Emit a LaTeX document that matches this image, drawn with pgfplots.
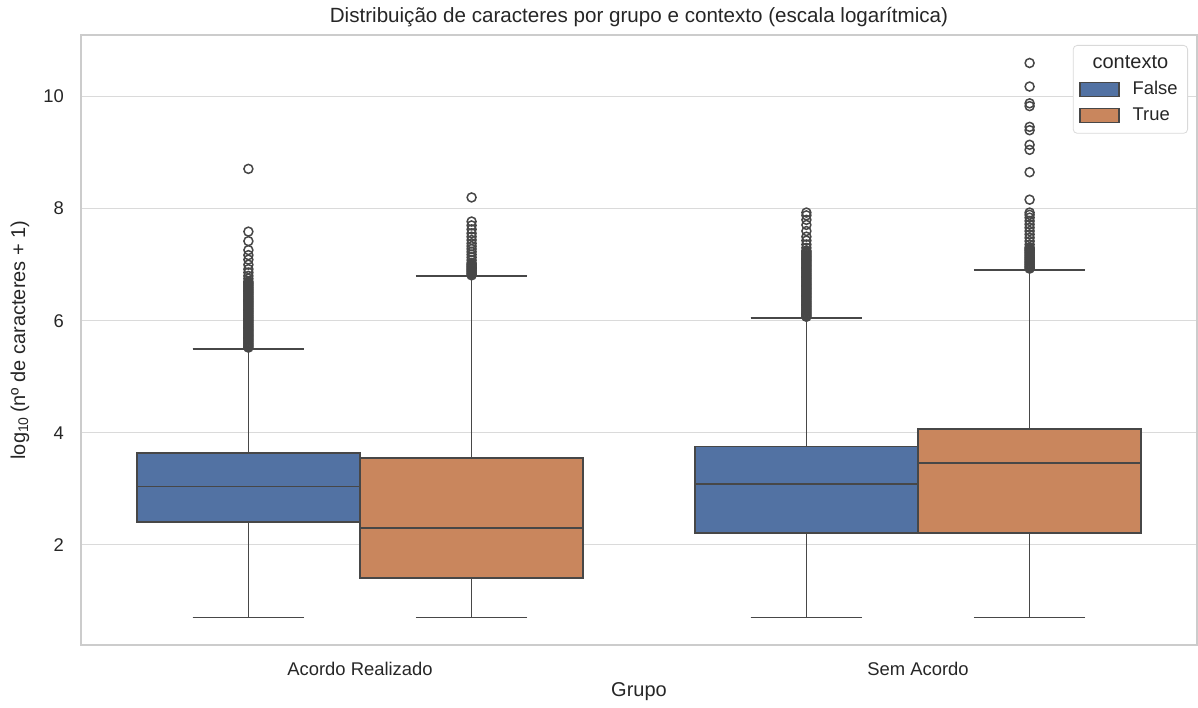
\documentclass[border=0pt]{standalone}
\usepackage{pgfplots}
\pgfplotsset{compat=1.18}
\usepgfplotslibrary{statistics}
\usepackage{fontspec}
\setmainfont{Liberation Sans}
\definecolor{cblue}{HTML}{5272A3}
\definecolor{corange}{HTML}{C9865D}
\definecolor{edge}{HTML}{474747}
\definecolor{txt}{HTML}{262626}
\definecolor{gridc}{HTML}{DADADA}

\begin{document}
\begin{tikzpicture}
\begin{axis}[
  scale only axis,
  width=558pt, height=305pt,
  xmin=-0.5, xmax=1.5,
  ymin=0.21, ymax=11.1,
  xtick={0,1}, xticklabels={Acordo Realizado, Sem Acordo},
  ytick={2,4,6,8,10},
  major tick length=0pt,
  ymajorgrids, xmajorgrids=false,
  grid style={gridc, line width=0.6pt},
  axis line style={black!20, line width=0.7pt},
  /pgf/number format/assume math mode=true,
  tick label style={font=\fontsize{9.2}{11}\selectfont, text=txt},
  xticklabel style={yshift=-5pt},
  yticklabel style={xshift=-5pt},
  title={Distribuição de caracteres por grupo e contexto (escala logarítmica)},
  every axis title/.style={at={(axis description cs:0.5,1)}, anchor=center, yshift=9pt, font=\fontsize{10.3}{12}\selectfont, text=txt},
  xlabel={Grupo},
  ylabel={log\textsubscript{10}\,(nº de caracteres + 1)},
  every axis x label/.style={at={(axis description cs:0.5,0)}, yshift=-23.5pt, anchor=center, font=\fontsize{10}{12}\selectfont, text=txt},
  every axis y label/.style={at={(axis description cs:0,0.5)}, xshift=-30.5pt, rotate=90, anchor=center, font=\fontsize{10}{12}\selectfont, text=txt},
  legend image code/.code={\draw[#1, sharp corners] (0pt,-3.5pt) rectangle (19.5pt,3.5pt);},
  legend cell align=left,
  legend style={at={(axis description cs:1,1)}, anchor=north east, xshift=-4.5pt, yshift=-5pt,
    draw=black!15, rounded corners=2pt, fill=white,
    font=\fontsize{9.2}{11}\selectfont, text=txt, inner xsep=3pt, inner ysep=3pt, row sep=1pt},
  legend style={/tikz/every odd column/.append style={column sep=4.5pt}},
  boxplot/draw direction=y,
  boxplot/box extend=0.4,
  boxplot/whisker extend=0.2,
  boxplot/every box/.style={line width=0.75pt, draw=edge},
  boxplot/every whisker/.style={line width=0.85pt, draw=edge},
  boxplot/every median/.style={line width=0.85pt, draw=edge},
]
\addlegendimage{empty legend}
\addlegendentry{\hspace{-20pt}\fontsize{10}{12}\selectfont contexto}
\addlegendimage{fill=cblue, draw=edge, line width=0.7pt}
\addlegendentry{False}
\addlegendimage{fill=corange, draw=edge, line width=0.7pt}
\addlegendentry{True}

% Acordo Realizado, False
\addplot[forget plot, fill=cblue, draw=edge, line width=0.75pt, mark=o, mark size=2.25pt,
  mark options={draw=edge, solid, line width=0.75pt},
  boxplot prepared={draw position=-0.2, lower whisker=0.70, lower quartile=2.41,
    median=3.04, upper quartile=3.64, upper whisker=5.50}]
  table[row sep=\\, y index=0] {v\\ 5.52\\ 5.54\\ 5.56\\ 5.58\\ 5.60\\ 5.62\\ 5.64\\ 5.66\\ 5.68\\ 5.70\\ 5.72\\ 5.74\\ 5.76\\ 5.78\\ 5.80\\ 5.82\\ 5.84\\ 5.86\\ 5.88\\ 5.90\\ 5.92\\ 5.94\\ 5.96\\ 5.98\\ 6.00\\ 6.02\\ 6.04\\ 6.06\\ 6.08\\ 6.10\\ 6.12\\ 6.14\\ 6.16\\ 6.18\\ 6.20\\ 6.22\\ 6.24\\ 6.26\\ 6.28\\ 6.30\\ 6.32\\ 6.34\\ 6.36\\ 6.38\\ 6.40\\ 6.42\\ 6.44\\ 6.46\\ 6.48\\ 6.50\\ 6.52\\ 6.54\\ 6.56\\ 6.58\\ 6.60\\ 6.62\\ 6.64\\ 6.66\\ 6.68\\ 6.70\\ 6.75\\ 6.80\\ 6.86\\ 6.92\\ 7.00\\ 7.09\\ 7.17\\ 7.26\\ 7.42\\ 7.59\\ 8.71\\};

% Acordo Realizado, True
\addplot[forget plot, fill=corange, draw=edge, line width=0.75pt, mark=o, mark size=2.25pt,
  mark options={draw=edge, solid, line width=0.75pt},
  boxplot prepared={draw position=0.2, lower whisker=0.70, lower quartile=1.41,
    median=2.30, upper quartile=3.55, upper whisker=6.80}]
  table[row sep=\\, y index=0] {v\\ 6.81\\ 6.83\\ 6.85\\ 6.87\\ 6.89\\ 6.91\\ 6.93\\ 6.95\\ 6.97\\ 6.99\\ 7.01\\ 7.03\\ 7.08\\ 7.13\\ 7.18\\ 7.23\\ 7.28\\ 7.33\\ 7.38\\ 7.44\\ 7.50\\ 7.56\\ 7.63\\ 7.70\\ 7.77\\ 8.20\\};

% Sem Acordo, False
\addplot[forget plot, fill=cblue, draw=edge, line width=0.75pt, mark=o, mark size=2.25pt,
  mark options={draw=edge, solid, line width=0.75pt},
  boxplot prepared={draw position=0.8, lower whisker=0.70, lower quartile=2.21,
    median=3.09, upper quartile=3.75, upper whisker=6.05}]
  table[row sep=\\, y index=0] {v\\ 6.07\\ 6.09\\ 6.11\\ 6.13\\ 6.15\\ 6.17\\ 6.19\\ 6.21\\ 6.23\\ 6.25\\ 6.27\\ 6.29\\ 6.31\\ 6.33\\ 6.35\\ 6.37\\ 6.39\\ 6.41\\ 6.43\\ 6.45\\ 6.47\\ 6.49\\ 6.51\\ 6.53\\ 6.55\\ 6.57\\ 6.59\\ 6.61\\ 6.63\\ 6.65\\ 6.67\\ 6.69\\ 6.71\\ 6.73\\ 6.75\\ 6.77\\ 6.79\\ 6.81\\ 6.83\\ 6.85\\ 6.87\\ 6.89\\ 6.91\\ 6.93\\ 6.95\\ 6.97\\ 6.99\\ 7.01\\ 7.03\\ 7.05\\ 7.07\\ 7.09\\ 7.11\\ 7.13\\ 7.15\\ 7.17\\ 7.19\\ 7.21\\ 7.23\\ 7.25\\ 7.30\\ 7.36\\ 7.43\\ 7.50\\ 7.60\\ 7.71\\ 7.80\\ 7.88\\ 7.93\\};

% Sem Acordo, True
\addplot[forget plot, fill=corange, draw=edge, line width=0.75pt, mark=o, mark size=2.25pt,
  mark options={draw=edge, solid, line width=0.75pt},
  boxplot prepared={draw position=1.2, lower whisker=0.70, lower quartile=2.21,
    median=3.46, upper quartile=4.07, upper whisker=6.91}]
  table[row sep=\\, y index=0] {v\\ 6.93\\ 6.95\\ 6.97\\ 6.99\\ 7.01\\ 7.03\\ 7.05\\ 7.07\\ 7.09\\ 7.11\\ 7.13\\ 7.15\\ 7.17\\ 7.19\\ 7.21\\ 7.23\\ 7.25\\ 7.27\\ 7.29\\ 7.31\\ 7.36\\ 7.42\\ 7.48\\ 7.54\\ 7.60\\ 7.66\\ 7.72\\ 7.78\\ 7.84\\ 7.89\\ 7.93\\ 8.16\\ 8.65\\ 9.05\\ 9.14\\ 9.40\\ 9.46\\ 9.83\\ 9.88\\ 10.18\\ 10.60\\};
\end{axis}
\pgfresetboundingbox
\path ([xshift=-40.5pt,yshift=-31pt]current axis.south west) rectangle ([xshift=0.5pt,yshift=17.5pt]current axis.north east);
\end{tikzpicture}
\end{document}
